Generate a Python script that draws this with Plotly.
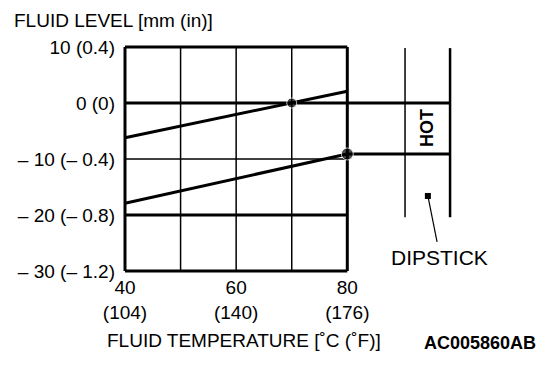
import plotly.graph_objects as go

# ---- data ----
temp_c = [40, 80]                      # fluid temperature range (deg C)
upper_level = [-6.2, 2.1]              # fluid level line (mm)
lower_level = [-17.9, -9.1]            # fluid level line (mm)
point_temp = [70, 80]                  # marked points
point_level = [0.0, -9.1]
x_ticks = [40, 60, 80]
x_ticktext = ["40<br>(104)", "60<br>(140)", "80<br>(176)"]
y_ticks = [10, 0, -10, -20, -30]
y_ticktext = ["10 (0.4)", "0 (0)", "– 10 (– 0.4)", "– 20 (– 0.8)", "– 30 (– 1.2)"]
grid_thin_x = [50, 60, 70]
grid_thin_y = [-10]
grid_thick_y = [0, -20]
frame_x = [40, 80]
frame_y = [10, -30]
dipstick_x = [90.39, 98.49]            # dipstick edges (x units)
dipstick_y = [9.8, -20.4]
hot_levels = [0.0, -9.1]               # HOT band on dipstick
dip_dot = [94.5, -16.6]
dip_leader = [96.15, -24.8]
dip_label = [96.5, -27.5]

FONT = "Liberation Sans, Arial, sans-serif"
W, H = 560, 368
L, R, T, B = 122, 96, 44, 94
kx = (80 - 40) / 222.3
xr = [40 - 3 * kx, 40 - 3 * kx + (W - L - R) * kx]
ky = 10 / 56.0
yr = [-30 - 3 * ky, 10 + 3 * ky]

fig = go.Figure()
blk = "black"

def seg(x, y, w):
    fig.add_trace(go.Scatter(x=x, y=y, mode="lines", line=dict(color=blk, width=w),
                             hoverinfo="skip", showlegend=False))

# thin grid
for gx in grid_thin_x:
    seg([gx, gx], frame_y, 1.5)
for gy in grid_thin_y:
    seg(frame_x, [gy, gy], 1.5)
# thick grid
for gy in grid_thick_y:
    seg(frame_x, [gy, gy], 3)
# frame
for fx in frame_x:
    seg([fx, fx], frame_y, 3)
for fy in frame_y:
    seg(frame_x, [fy, fy], 3)

# level lines
seg(temp_c, upper_level, 3)
seg(temp_c, lower_level, 3)

# lines to dipstick
for hl in hot_levels:
    seg([frame_x[1], dipstick_x[1]], [hl, hl], 3)
# dipstick edges
seg([dipstick_x[0]] * 2, dipstick_y, 1.5)
seg([dipstick_x[1]] * 2, dipstick_y, 2.5)
# leader
seg([dip_dot[0], dip_leader[0]], [dip_dot[1], dip_leader[1]], 1.2)

fig.add_trace(go.Scatter(x=point_temp, y=point_level, mode="markers",
                         marker=dict(color=blk, size=[10, 12], symbol="circle"),
                         hoverinfo="skip", showlegend=False))
fig.add_trace(go.Scatter(x=[dip_dot[0]], y=[dip_dot[1]], mode="markers",
                         marker=dict(color=blk, size=6, symbol="square"),
                         hoverinfo="skip", showlegend=False))

fig.add_annotation(x=(dipstick_x[0] + dipstick_x[1]) / 2, y=sum(hot_levels) / 2,
                   text="<b>HOT</b>", textangle=-90, showarrow=False,
                   font=dict(family=FONT, size=18, color=blk))
fig.add_annotation(x=dip_label[0], y=dip_label[1], text="DIPSTICK", showarrow=False,
                   font=dict(family=FONT, size=21, color=blk))

def px_x(p):
    return (p - L) / (W - L - R)

def px_y(p):
    return 1 - (p - T) / (H - T - B)

fig.add_annotation(xref="paper", yref="paper", x=px_x(12), y=px_y(21), xanchor="left",
                   yanchor="middle", text="FLUID LEVEL [mm (in)]", showarrow=False,
                   font=dict(family=FONT, size=19, color=blk))
fig.add_annotation(xref="paper", yref="paper", x=px_x(244), y=px_y(340), xanchor="center",
                   yanchor="middle", text="FLUID TEMPERATURE [˚C (˚F)]", showarrow=False,
                   font=dict(family=FONT, size=19, color=blk))
fig.add_annotation(xref="paper", yref="paper", x=px_x(480), y=px_y(343), xanchor="center",
                   yanchor="middle", text="<b>AC005860AB</b>", showarrow=False,
                   font=dict(family=FONT, size=18, color=blk))

fig.update_layout(
    width=W, height=H, margin=dict(l=L, r=R, t=T, b=B),
    paper_bgcolor="white", plot_bgcolor="white",
    xaxis=dict(range=xr, showgrid=False, zeroline=False, showline=False,
               tickvals=x_ticks, ticktext=x_ticktext, ticks="",
               ticklabelstandoff=0,
               tickfont=dict(family=FONT, size=19, color=blk), fixedrange=True),
    yaxis=dict(range=yr, showgrid=False, zeroline=False, showline=False,
               tickvals=y_ticks, ticktext=y_ticktext, ticks="",
               ticklabelstandoff=6,
               tickfont=dict(family=FONT, size=19, color=blk), fixedrange=True),
)

fig.write_html("out.html", config={"displayModeBar": False},
               post_script="document.body.style.margin='0';")
